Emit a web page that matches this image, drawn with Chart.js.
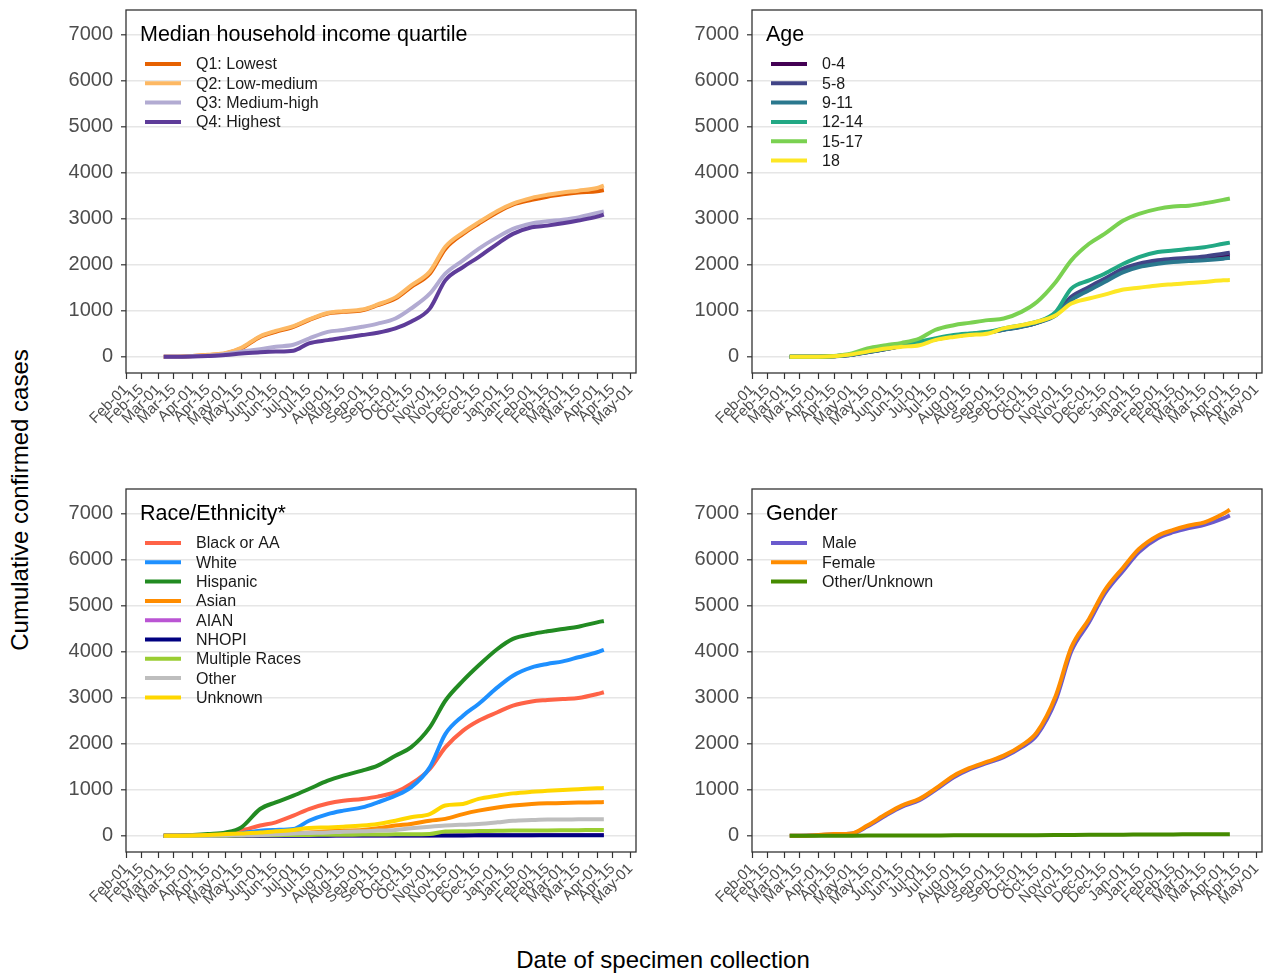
<!DOCTYPE html>
<html>
<head>
<meta charset="utf-8">
<script src="https://cdn.jsdelivr.net/npm/chart.js@4.4.1/dist/chart.umd.min.js"></script>
<style>
  html, body { margin: 0; padding: 0; background: #fff; }
  body { width: 1266px; height: 975px; position: relative; overflow: hidden; font-family: "Liberation Sans", Arial, sans-serif; }
  .panel { position: absolute; }
  #ytitle { position: absolute; left: 20px; top: 500px; transform: translate(-50%, -50%) rotate(-90deg); font-size: 24px; white-space: nowrap; color: #000; }
  #xtitle { position: absolute; left: 663px; top: 960px; transform: translate(-50%, -50%); font-size: 24px; white-space: nowrap; color: #000; }
</style>
</head>
<body>
<div id="ytitle">Cumulative confirmed cases</div>
<div id="xtitle">Date of specimen collection</div>
<div class="panel" id="w1"><canvas id="c1"></canvas></div>
<div class="panel" id="w2"><canvas id="c2"></canvas></div>
<div class="panel" id="w3"><canvas id="c3"></canvas></div>
<div class="panel" id="w4"><canvas id="c4"></canvas></div>
<script>
// x axis ticks (1st and 15th of each month)
const tickDates = ['2020-02-01','2020-02-15','2020-03-01','2020-03-15','2020-04-01','2020-04-15','2020-05-01','2020-05-15',
  '2020-06-01','2020-06-15','2020-07-01','2020-07-15','2020-08-01','2020-08-15','2020-09-01','2020-09-15',
  '2020-10-01','2020-10-15','2020-11-01','2020-11-15','2020-12-01','2020-12-15','2021-01-01','2021-01-15',
  '2021-02-01','2021-02-15','2021-03-01','2021-03-15','2021-04-01','2021-04-15','2021-05-01'];
const tickLabels = ['Feb-01','Feb-15','Mar-01','Mar-15','Apr-01','Apr-15','May-01','May-15','Jun-01','Jun-15',
  'Jul-01','Jul-15','Aug-01','Aug-15','Sep-01','Sep-15','Oct-01','Oct-15','Nov-01','Nov-15','Dec-01','Dec-15',
  'Jan-01','Jan-15','Feb-01','Feb-15','Mar-01','Mar-15','Apr-01','Apr-15','May-01'];
const yTicks = [0,500,1000,1500,2000,2500,3000,3500,4000,4500,5000,5500,6000,6500,7000];

// dates at which the cumulative counts were read
const sampleDates = ['2020-03-06','2020-03-15','2020-04-01','2020-04-15','2020-05-01','2020-05-15','2020-06-01','2020-06-15',
  '2020-07-01','2020-07-15','2020-08-01','2020-08-15','2020-09-01','2020-09-15','2020-10-01','2020-10-15',
  '2020-11-01','2020-11-15','2020-12-01','2020-12-15','2021-01-01','2021-01-15','2021-02-01','2021-02-15',
  '2021-03-01','2021-03-15','2021-04-01','2021-04-07'];

// income quartile
const incomeLabels = ['Q1: Lowest','Q2: Low-medium','Q3: Medium-high','Q4: Highest'];
const incomeColors = ['#e66101','#fdb863','#b2abd2','#5e3c99'];
const incomeQ1 = [0,0,15,35,70,180,430,540,650,795,940,975,1010,1120,1265,1515,1805,2345,2670,2890,3140,3305,3410,3480,3530,3570,3600,3625];
const incomeQ2 = [0,0,15,40,80,195,445,560,665,810,950,990,1025,1135,1290,1545,1850,2390,2700,2920,3170,3330,3455,3520,3570,3610,3670,3720];
const incomeQ3 = [0,0,10,20,60,110,160,215,260,395,540,580,650,720,830,1045,1370,1805,2095,2345,2600,2780,2900,2945,2980,3030,3125,3160];
const incomeQ4 = [0,0,5,15,35,70,95,110,130,290,360,410,470,520,615,760,1045,1660,1950,2165,2455,2670,2815,2850,2900,2960,3045,3090];

// age
const ageLabels = ['0-4','5-8','9-11','12-14','15-17','18'];
const ageColors = ['#440154','#414487','#2a788e','#22a884','#7ad151','#fde725'];
const age0to4 = [0,0,0,10,42,98,168,232,298,378,448,488,528,588,655,738,920,1265,1480,1660,1880,1985,2055,2095,2115,2140,2185,2200];
const age5to8 = [0,0,0,10,45,100,170,235,300,380,450,490,530,590,660,740,940,1300,1515,1695,1915,2020,2095,2130,2150,2180,2240,2260];
const age9to11 = [0,0,0,10,40,95,165,230,295,375,445,485,525,585,650,735,900,1230,1445,1625,1840,1950,2020,2060,2080,2095,2130,2150];
const age12to14 = [0,0,0,10,50,110,180,250,325,395,470,505,540,615,685,760,975,1480,1660,1805,2020,2165,2275,2310,2345,2380,2455,2480];
const age15to17 = [0,0,0,15,70,180,250,300,395,580,685,735,795,830,975,1190,1625,2095,2455,2670,2960,3105,3215,3265,3285,3335,3410,3440];
const age18 = [0,0,0,10,50,110,180,215,250,360,430,470,505,615,685,760,900,1155,1265,1350,1460,1500,1550,1575,1600,1625,1660,1665];

// race / ethnicity
const raceLabels = ['Black or AA','White','Hispanic','Asian','AIAN','NHOPI','Multiple Races','Other','Unknown'];
const raceColors = ['#ff6347','#1e90ff','#228b22','#ff8c00','#ba55d3','#000080','#9acd32','#bebebe','#ffd700'];
const raceBlack = [0,0,5,15,50,110,220,290,435,580,700,760,800,850,945,1125,1450,1920,2285,2500,2685,2830,2920,2950,2975,2995,3080,3120];
const raceWhite = [0,0,5,10,20,50,110,125,145,325,470,545,615,725,870,1050,1485,2210,2610,2865,3225,3480,3660,3735,3790,3880,3990,4040];
const raceHispanic = [0,0,15,35,70,180,580,725,870,1015,1195,1305,1415,1525,1740,1920,2355,2935,3370,3700,4060,4280,4385,4445,4495,4545,4640,4670];
const raceAsian = [0,0,0,5,10,20,35,45,55,70,95,110,125,160,220,255,325,365,470,545,615,655,690,705,710,720,725,730];
const raceAIAN = [0,0,0,0,0,0,1,1,2,2,3,3,4,4,5,5,6,8,9,10,11,12,12,13,13,14,14,15];
const raceNHOPI = [0,0,0,0,0,0,0,1,1,1,1,2,2,2,3,3,4,5,6,7,8,9,9,10,10,10,11,11];
const raceMultiple = [0,0,0,0,0,5,10,10,15,15,20,20,25,25,30,30,35,90,95,100,105,110,110,115,118,120,125,125];
const raceOther = [0,0,0,0,5,10,15,30,50,60,70,85,95,110,125,160,195,220,240,255,290,325,340,350,352,355,358,360];
const raceUnknown = [0,0,5,15,35,50,70,95,125,165,180,195,220,255,325,400,470,655,690,800,870,920,955,975,995,1010,1030,1035];

// gender
const genderLabels = ['Male','Female','Other/Unknown'];
const genderColors = ['#6a5acd','#ff8c00','#458b00'];
const genderMale = [0,0,10,30,45,200,445,625,770,985,1270,1440,1590,1710,1920,2190,2950,4010,4640,5260,5770,6170,6470,6600,6690,6760,6900,6965];
const genderFemale = [0,0,15,35,50,220,470,655,800,1015,1305,1470,1615,1740,1960,2250,3045,4095,4715,5330,5840,6235,6525,6650,6745,6815,7000,7090];
const genderOther = [0,0,0,0,1,2,3,4,5,6,7,8,9,10,11,12,14,16,18,20,22,24,26,28,29,30,32,33];

const FONT = '"Liberation Sans", Arial, sans-serif';
const origin = Date.parse('2020-02-01');
const toDay = s => Math.round((Date.parse(s) - origin) / 86400000);
const tickDays = tickDates.map(toDay);
const sampleDays = sampleDates.map(toDay);

const AREA_W = 510, AREA_H = 363, Y_W = 60, X_H = 75, PAD_T = 4, PAD_R = 6;

// no label padding from the scales, the plot area is placed by hand
const noPad = s => { s.paddingTop = 0; s.paddingBottom = 0; s.paddingLeft = 0; s.paddingRight = 0; };

// frame, panel title and legend inside the plot area
const decor = {
  id: 'decor',
  afterDraw(chart, args, opts) {
    const {ctx, chartArea: a} = chart;
    ctx.save();
    ctx.strokeStyle = '#333333';
    ctx.lineWidth = 1.3;
    ctx.strokeRect(a.left, a.top, a.right - a.left, a.bottom - a.top);
    ctx.fillStyle = '#000';
    ctx.textBaseline = 'middle';
    ctx.textAlign = 'left';
    ctx.font = '21.5px ' + FONT;
    ctx.fillText(opts.title, a.left + 14, a.top + 25);
    ctx.font = '16px ' + FONT;
    opts.labels.forEach((lab, i) => {
      const y = a.top + 54 + i * 19.3;
      ctx.strokeStyle = opts.colors[i];
      ctx.lineWidth = 4;
      ctx.beginPath();
      ctx.moveTo(a.left + 19, y);
      ctx.lineTo(a.left + 55, y);
      ctx.stroke();
      ctx.fillStyle = '#1a1a1a';
      ctx.fillText(lab, a.left + 70, y + 1);
    });
    ctx.restore();
  }
};

function makePanel(n, left, top, title, labels, colors, series) {
  const wrap = document.getElementById('w' + n);
  wrap.style.left = (left - Y_W) + 'px';
  wrap.style.top = (top - PAD_T) + 'px';
  wrap.style.width = (Y_W + AREA_W + PAD_R) + 'px';
  wrap.style.height = (PAD_T + AREA_H + X_H) + 'px';
  const k = series.length;
  new Chart(document.getElementById('c' + n), {
    type: 'line',
    data: {
      datasets: series.map((vals, i) => ({
        label: labels[i],
        data: sampleDays.map((d, j) => ({x: d, y: vals[j]})),
        borderColor: colors[i],
        borderWidth: 4,
        pointRadius: 0,
        fill: false,
        cubicInterpolationMode: 'monotone',
        order: k - i
      }))
    },
    options: {
      responsive: true,
      maintainAspectRatio: false,
      animation: false,
      layout: {autoPadding: false, padding: {top: PAD_T, right: PAD_R, left: 0, bottom: 0}},
      plugins: {
        legend: {display: false},
        tooltip: {enabled: false},
        decor: {title: title, labels: labels, colors: colors}
      },
      scales: {
        x: {
          type: 'linear',
          min: 0,
          max: 460,
          afterBuildTicks: s => { s.ticks = tickDays.map(v => ({value: v})); },
          afterFit: s => { s.height = X_H; noPad(s); },
          border: {display: false},
          grid: {drawOnChartArea: false, drawTicks: true, tickLength: 6, tickColor: '#333333', tickWidth: 1.2},
          ticks: {
            autoSkip: false, maxRotation: 45, minRotation: 45, padding: 2,
            color: '#4d4d4d', font: {family: FONT, size: 15},
            callback: (v, i) => tickLabels[i]
          }
        },
        y: {
          type: 'linear',
          min: -355,
          max: 7540,
          afterBuildTicks: s => { s.ticks = yTicks.map(v => ({value: v})); },
          afterFit: s => { s.width = Y_W; noPad(s); },
          border: {display: false},
          grid: {
            drawTicks: true,
            tickLength: 5,
            color: c => c.tick && c.tick.value % 1000 === 0 ? '#e6e6e6' : '#f2f2f2',
            lineWidth: c => c.tick && c.tick.value % 1000 === 0 ? 1.6 : 1,
            tickColor: c => c.tick && c.tick.value % 1000 === 0 ? '#333333' : 'rgba(0,0,0,0)',
            tickWidth: 1.2
          },
          ticks: {
            padding: 8,
            color: '#4d4d4d', font: {family: FONT, size: 20},
            callback: v => v % 1000 === 0 ? String(v) : ''
          }
        }
      }
    },
    plugins: [decor]
  });
}

makePanel(1, 126, 10, 'Median household income quartile', incomeLabels, incomeColors,
  [incomeQ1, incomeQ2, incomeQ3, incomeQ4]);
makePanel(2, 752, 10, 'Age', ageLabels, ageColors,
  [age0to4, age5to8, age9to11, age12to14, age15to17, age18]);
makePanel(3, 126, 489, 'Race/Ethnicity*', raceLabels, raceColors,
  [raceBlack, raceWhite, raceHispanic, raceAsian, raceAIAN, raceNHOPI, raceMultiple, raceOther, raceUnknown]);
makePanel(4, 752, 489, 'Gender', genderLabels, genderColors,
  [genderMale, genderFemale, genderOther]);
</script>
</body>
</html>
